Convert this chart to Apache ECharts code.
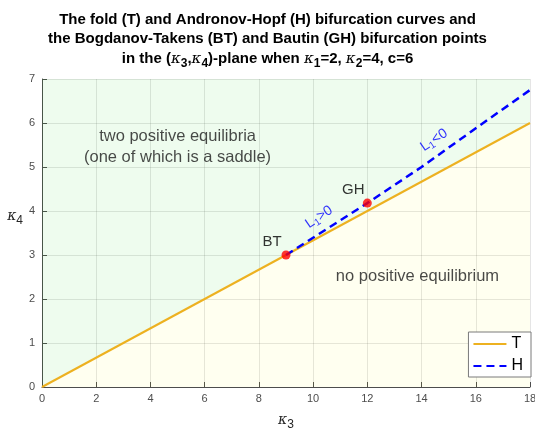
<!DOCTYPE html>
<html><head><meta charset="utf-8">
<script src="https://cdn.jsdelivr.net/npm/echarts@6/dist/echarts.min.js"></script>
<style>html,body{margin:0;padding:0;background:#fff}#c{width:535px;height:430px}</style>
</head><body><div id="c"></div>
<script>
// ---- data ----
const foldX = [0, 18];
const foldY = [0, 6];
const hopfX = [9, 12, 14, 16, 18];
const hopfY = [3, 4.18, 5.0, 5.88, 6.75];
const pointNames = ['BT', 'GH'];
const pointX = [9, 12];
const pointY = [3, 4.18];
const regionTexts = ['two positive equilibria\n(one of which is a saddle)', 'no positive equilibrium'];
const regionX = [5.0, 13.85];
const regionY = [5.46, 2.52];
const lyapTexts = ['{a|L}{s|1}{a|>0}', '{a|L}{s|1}{a|<0}'];
const lyapX = [10.22, 14.46];
const lyapY = [3.86, 5.61];
const xMin = 0, xMax = 18, xStep = 2;
const yMin = 0, yMax = 7, yStep = 1;

const FONT = 'Liberation Sans, Arial, Helvetica, sans-serif';
const zip = (xs, ys) => xs.map((x, i) => [x, ys[i]]);
const foldData = zip(foldX, foldY);
const hopfData = zip(hopfX, hopfY);

const chart = echarts.init(document.getElementById('c'), null, {renderer: 'canvas'});
const kRich = {
  k: {fontFamily: 'DejaVu Serif', fontStyle: 'italic', fontSize: 14, color: '#262626'},
  s: {fontFamily: FONT, fontSize: 12, color: '#262626', padding: [9, 0, 0, 0]}
};
chart.setOption({
  animation: false,
  backgroundColor: '#fff',
  title: {
    left: 'center',
    top: 5,
    text: 'The fold (T) and Andronov-Hopf (H) bifurcation curves and\nthe Bogdanov-Takens (BT) and Bautin (GH) bifurcation points\n{t|in the (}{k|κ}{s|3}{t|,}{k|κ}{s|4}{t|)-plane when }{k|κ}{s|1}{t|=2, }{k|κ}{s|2}{t|=4, c=6}',
    textStyle: {
      fontFamily: FONT, fontSize: 15, fontWeight: 'bold', color: '#000', lineHeight: 19.5,
      rich: {
        t: {fontFamily: FONT, fontSize: 15, fontWeight: 'bold', color: '#000', lineHeight: 19.5},
        k: {fontFamily: 'DejaVu Serif', fontStyle: 'italic', fontSize: 15, fontWeight: 'normal', color: '#000', lineHeight: 19.5},
        s: {fontFamily: FONT, fontSize: 12, fontWeight: 'bold', color: '#000', padding: [9, 0, 0, 0]}
      }
    }
  },
  grid: {left: 42, right: 5, top: 79, bottom: 43, containLabel: false, outerBoundsMode: 'none'},
  legend: {
    data: ['T', 'H'],
    orient: 'vertical',
    right: 4, top: 332,
    backgroundColor: '#fff',
    borderColor: '#7a7a7a', borderWidth: 1, borderRadius: 0,
    padding: [4, 8, 3, 4],
    itemWidth: 33, itemHeight: 12, itemGap: 6,
    itemStyle: {opacity: 0},
    textStyle: {fontFamily: FONT, fontSize: 16, color: '#000', padding: [0, 0, 0, 0]}
  },
  xAxis: {
    type: 'value', min: xMin, max: xMax, interval: xStep,
    name: '{k|κ}{s|3}', nameLocation: 'middle', nameGap: 23,
    nameTextStyle: {rich: kRich},
    axisLine: {show: true, lineStyle: {color: '#4d4d4d', width: 1}},
    axisTick: {show: true, inside: true, length: 5, lineStyle: {color: '#4d4d4d'}},
    axisLabel: {fontFamily: FONT, fontSize: 11, color: '#4d4d4d', margin: 6},
    splitLine: {show: true, lineStyle: {color: 'rgba(38,38,38,0.12)', width: 1}}
  },
  yAxis: {
    type: 'value', min: yMin, max: yMax, interval: yStep,
    name: '{k|κ}{s|4}', nameLocation: 'middle', nameGap: 9, nameRotate: 0,
    nameTextStyle: {rich: kRich, padding: [0, 0, 34, 0]},
    axisLine: {show: true, lineStyle: {color: '#4d4d4d', width: 1}},
    axisTick: {show: true, inside: true, length: 5, lineStyle: {color: '#4d4d4d'}},
    axisLabel: {fontFamily: FONT, fontSize: 11, color: '#4d4d4d', margin: 7},
    splitLine: {show: true, lineStyle: {color: 'rgba(38,38,38,0.12)', width: 1}}
  },
  series: [
    {
      name: 'regionAbove', type: 'line', data: foldData, symbol: 'none', silent: true, z: 1,
      lineStyle: {width: 0, opacity: 0},
      areaStyle: {origin: 'end', color: 'rgba(0,205,0,0.095)'}
    },
    {
      name: 'regionBelow', type: 'line', data: foldData, symbol: 'none', silent: true, z: 1,
      lineStyle: {width: 0, opacity: 0},
      areaStyle: {origin: 'start', color: 'rgba(255,255,0,0.085)'}
    },
    {
      name: 'T', type: 'line', data: foldData, symbol: 'none', z: 3,
      lineStyle: {color: '#EDB120', width: 2}, itemStyle: {color: '#EDB120'}
    },
    {
      name: 'H', type: 'line', data: hopfData, symbol: 'none', z: 4,
      lineStyle: {color: '#0000FF', width: 2.5, type: [8, 5]}, itemStyle: {color: '#0000FF'}
    },
    {
      name: 'points', type: 'scatter', z: 5, symbolSize: 9,
      data: pointX.map((x, i) => ({value: [x, pointY[i]], name: pointNames[i]})),
      itemStyle: {color: '#FF0000'},
      label: {show: true, position: 'top', offset: [-14, 4], formatter: p => p.name,
        fontFamily: FONT, fontSize: 15, color: '#000'}
    },
    {
      name: 'regionText', type: 'scatter', z: 6, symbolSize: 0, silent: true,
      data: regionX.map((x, i) => ({value: [x, regionY[i]], name: regionTexts[i]})),
      label: {show: true, position: 'inside', formatter: p => p.name,
        fontFamily: FONT, fontSize: 16.5, color: '#1a1a1a', lineHeight: 21, align: 'center'}
    },
    {
      name: 'lyapText', type: 'scatter', z: 6, symbolSize: 0, silent: true,
      data: lyapX.map((x, i) => ({value: [x, lyapY[i]], name: lyapTexts[i]})),
      label: {show: true, position: 'inside', rotate: 34, formatter: p => p.name,
        rich: {
          a: {fontFamily: FONT, fontSize: 14, color: '#0000FF'},
          s: {fontFamily: FONT, fontSize: 10, color: '#0000FF', padding: [7, 0, 0, 0]}
        }}
    }
  ]
});
</script></body></html>
